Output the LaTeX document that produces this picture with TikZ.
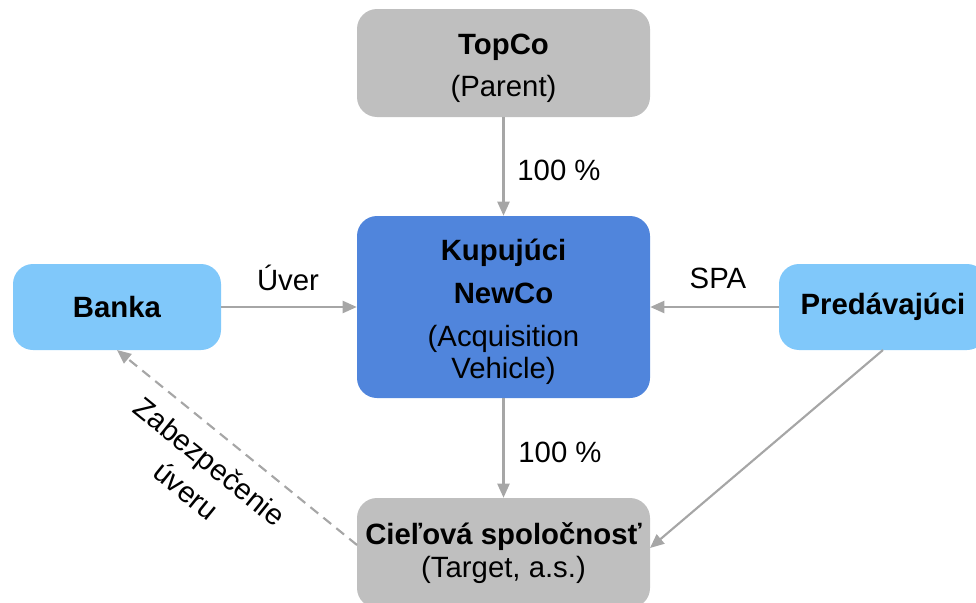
\documentclass[tikz,border=0pt]{standalone}
\usepackage{fontspec}
\setmainfont{Liberation Sans}
\usetikzlibrary{arrows.meta}
\definecolor{boxgray}{HTML}{BFBFBF}
\definecolor{boxblue}{HTML}{5085DC}
\definecolor{boxlight}{HTML}{80C8FA}
\definecolor{linegray}{HTML}{A6A6A6}
\newcommand{\topstrut}{\rule{0pt}{23.5pt}}
\begin{document}
\begin{tikzpicture}[x=0.75pt,y=-0.75pt,
  font=\fontsize{22}{24}\selectfont,
  ent/.style={rectangle,rounded corners=15pt,align=center,inner sep=0pt,draw=none},
  grayent/.style={ent,fill=boxgray},
  blueent/.style={ent,fill=boxblue},
  lightent/.style={ent,fill=boxlight},
  conn/.style={draw=linegray,line width=1.6pt,-{Triangle[length=10.5pt,width=9pt]}},
  dconn/.style={conn,dash pattern=on 7.5pt off 5pt},
  lbl/.style={inner sep=0pt,align=center}]
\useasboundingbox (0,0) rectangle (976,603);
\node[grayent,minimum width=219.75pt,minimum height=81pt] (top) at (503.5,63)
  {\topstrut\textbf{TopCo}\\[8pt](Parent)};
\node[blueent,minimum width=219.75pt,minimum height=136.5pt] (newco) at (503.5,307)
  {\topstrut\textbf{Kupujúci}\\[8pt]\textbf{NewCo}\\[8pt](Acquisition\\Vehicle)};
\node[lightent,minimum width=156pt,minimum height=64.5pt] (bank) at (117,307)
  {\textbf{Banka}};
\node[lightent,minimum width=156pt,minimum height=64.5pt] (seller) at (883,307)
  {\textbf{Predávajúci}};
\node[grayent,minimum width=219.75pt,minimum height=82.5pt] (target) at (503.5,553)
  {\textbf{Cieľová spoločnosť}\\[1pt](Target, a.s.)};
\coordinate (sellerbot) at (883,350);
\coordinate (targetright) at (650,548);
\coordinate (targetleft) at (357,545);
\coordinate (bankbot) at (117,350);
\draw[conn] (top) -- (newco);
\draw[conn] (newco) -- (target);
\draw[conn] (bank) -- (newco);
\draw[conn] (seller) -- (newco);
\draw[conn] (sellerbot) -- (targetright);
\draw[dconn] (targetleft) -- (bankbot);
\node[lbl] (l1) at (559,170) {100 \%};
\node[lbl] (l2) at (560,452) {100 \%};
\node[lbl] (l3) at (288,278) {Úver};
\node[lbl] (l4) at (718,278) {SPA};
\node[lbl,rotate=-39,font=\fontsize{22}{28}\selectfont] (l5) at (198,476) {Zabezpečenie\\úveru};
\end{tikzpicture}
\end{document}
